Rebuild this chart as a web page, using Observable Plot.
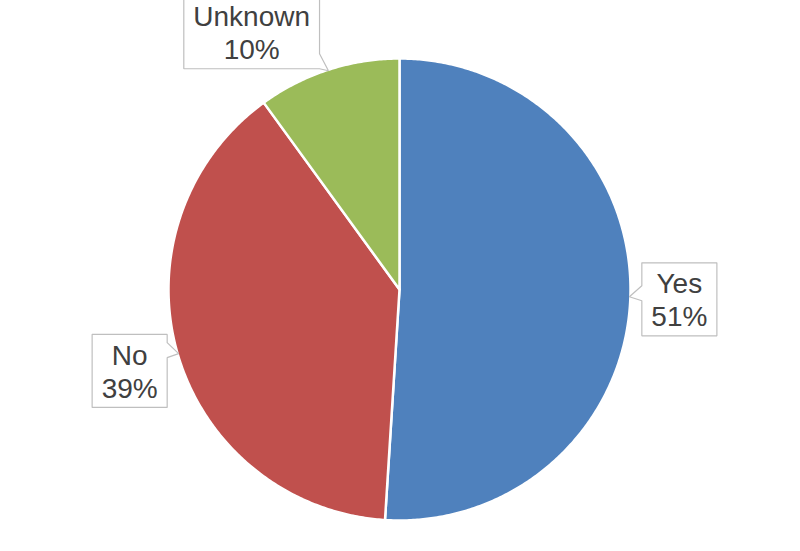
<!DOCTYPE html>
<html>
<head>
<meta charset="utf-8">
<script src="https://cdn.jsdelivr.net/npm/d3@7"></script>
<script src="https://cdn.jsdelivr.net/npm/@observablehq/plot@0.6"></script>
<style>
  html, body { margin: 0; padding: 0; background: #fff; }
  #chart svg { display: block; }
</style>
</head>
<body>
<div id="chart"></div>
<script>
// ---- data ----
const categories = ["Yes", "No", "Unknown"];
const values = [51, 39, 10];
const colors = ["#4F81BD", "#C0504D", "#9BBB59"];

// ---- layout ----
const W = 800, H = 551;
const CX = 399, CY = 289, R = 231;
const labelRadius = 281;
const labelNudge = [[-1, 1], [0, 3], [-61, 10]];
const fontSize = 28, lineH = 33;
const fontFamily = "'Liberation Sans', Arial, sans-serif";

const total = d3.sum(values);
const ends = d3.cumsum(values);
const toXY = (angle, r) => [CX + r * Math.sin(angle), CY - r * Math.cos(angle)];

// slice polygons (angles clockwise from 12 o'clock)
const slicePts = [];
const mids = [];
categories.forEach((cat, i) => {
  const a0 = (ends[i] - values[i]) / total * 2 * Math.PI;
  const a1 = ends[i] / total * 2 * Math.PI;
  mids.push((a0 + a1) / 2);
  slicePts.push({cat, x: CX, y: CY});
  const n = Math.max(2, Math.ceil((a1 - a0) / (Math.PI / 360)));
  for (let k = 0; k <= n; k++) {
    const [x, y] = toXY(a0 + (a1 - a0) * k / n, R);
    slicePts.push({cat, x, y});
  }
  slicePts.push({cat, x: CX, y: CY});
});

// measure text
const ctx = document.createElement("canvas").getContext("2d");
ctx.font = `${fontSize}px ${fontFamily}`;

const labels = categories.map((cat, i) => {
  const pct = Math.round(values[i] / total * 100) + "%";
  const [bx0, by0] = toXY(mids[i], labelRadius);
  const cx = bx0 + labelNudge[i][0], cy = by0 + labelNudge[i][1];
  const tw = Math.max(ctx.measureText(cat).width, ctx.measureText(pct).width);
  const w = tw + 19, h = 2 * lineH + 7;
  const [tx, ty] = toXY(mids[i], R - 1);
  return {cat, text: cat + "\n" + pct, cx, cy, w, h, tx, ty};
});

// callout polygons
const calloutPts = [];
labels.forEach(l => {
  const L = l.cx - l.w / 2, Rr = l.cx + l.w / 2, T = l.cy - l.h / 2, B = l.cy + l.h / 2;
  let b0 = l.ty - 11, b1 = l.ty + 4;
  if (b1 > B) { b0 -= (b1 - B); b1 = B; }
  if (b0 < T) { b1 += (T - b0); b0 = T; }
  let pts;
  if (l.tx < L) {
    pts = [[L, T], [Rr, T], [Rr, B], [L, B], [L, b1], [l.tx, l.ty], [L, b0], [L, T]];
  } else {
    pts = [[L, T], [Rr, T], [Rr, b0], [l.tx, l.ty], [Rr, b1], [Rr, B], [L, B], [L, T]];
  }
  pts.forEach(([x, y]) => calloutPts.push({cat: l.cat, x, y}));
});

const chart = Plot.plot({
  width: W,
  height: H,
  margin: 0,
  style: {background: "#fff", fontFamily},
  x: {domain: [0, W], range: [0, W], axis: null},
  y: {domain: [0, H], range: [0, H], axis: null},
  color: {domain: categories, range: colors},
  marks: [
    Plot.line(slicePts, {x: "x", y: "y", z: "cat", fill: "cat", stroke: "#fff", strokeWidth: 2.5, strokeLinejoin: "round", curve: "linear"}),
    Plot.line(calloutPts, {x: "x", y: "y", z: "cat", fill: "#fff", stroke: "#bfbfbf", strokeWidth: 1.2, strokeLinejoin: "miter", curve: "linear"}),
    Plot.text(labels, {x: "cx", y: "cy", text: "text", fontSize, lineHeight: lineH / fontSize, fill: "#404040", fontFamily})
  ]
});
document.getElementById("chart").appendChild(chart);
</script>
</body>
</html>
